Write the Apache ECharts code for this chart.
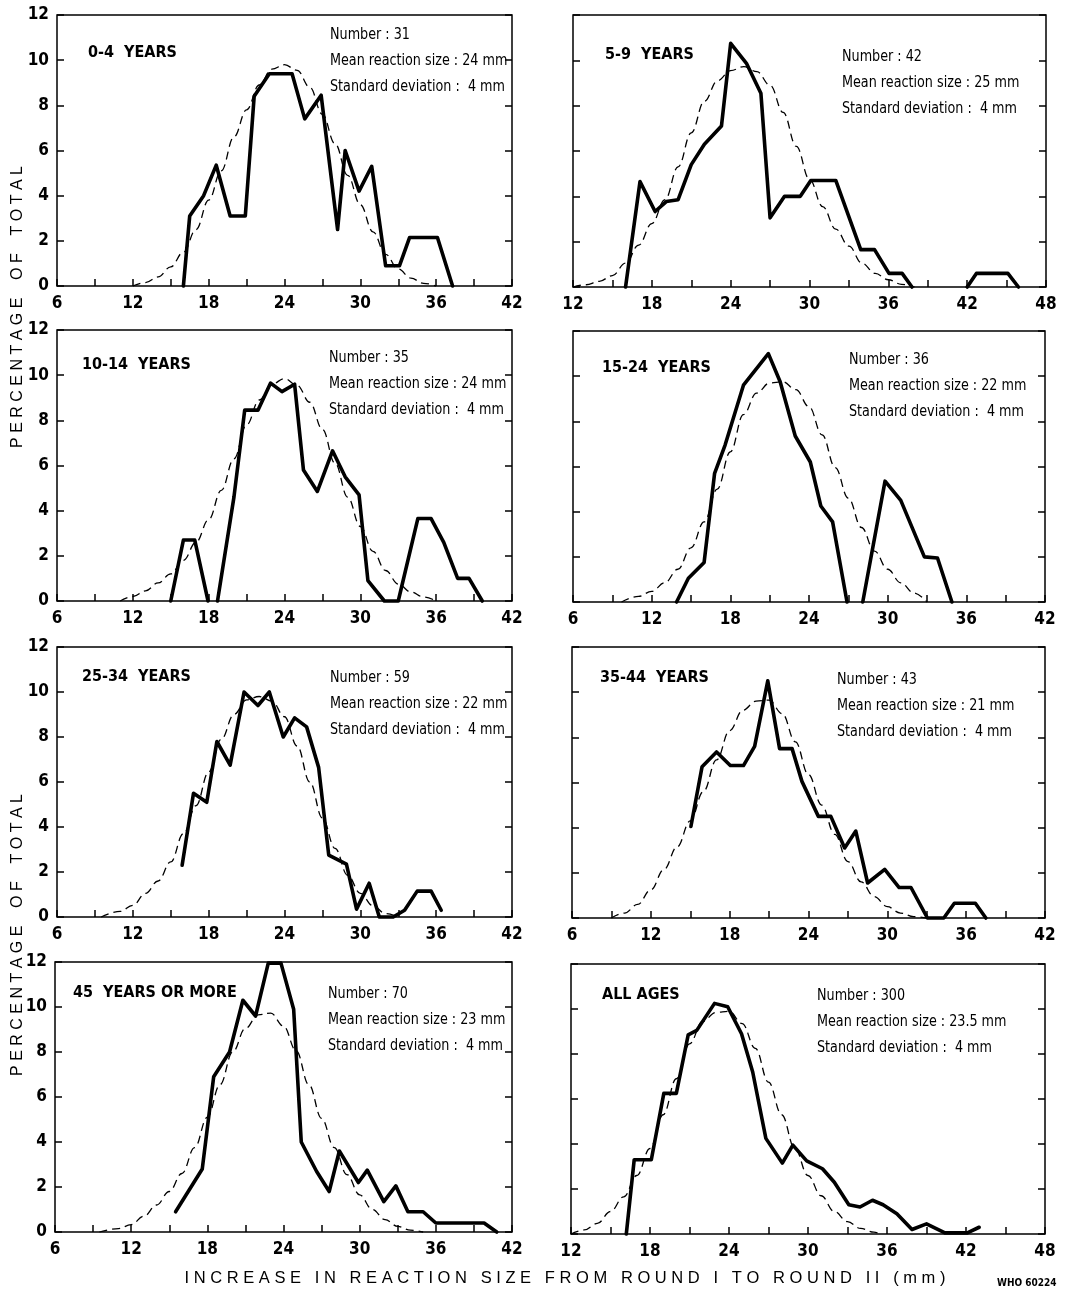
<!DOCTYPE html>
<html>
<head>
<meta charset="utf-8">
<script src="https://cdn.jsdelivr.net/npm/echarts@6.0.0/dist/echarts.min.js"></script>
<style>
  html, body { margin: 0; padding: 0; background: #fff; }
  #chart { width: 1082px; height: 1291px; }
</style>
</head>
<body>
<div id="chart"></div>
<script>
// observed distributions: [increase in mm, % of total]  ('-' = gap in the curve)
const obs0to4 = [[16,0],[16.5,3.1],[17.6,4.0],[18.6,5.35],[19.7,3.1],[20.9,3.1],[21.6,8.4],[22.8,9.4],[24.6,9.4],[25.6,7.4],[26.9,8.45],[28.2,2.5],[28.8,6.0],[29.9,4.2],[30.9,5.3],[32.0,0.9],[33.1,0.9],[33.9,2.15],[36.1,2.15],[37.3,0]]
const obs5to9 = [[16,0],[17.1,4.65],[18.25,3.33],[19.1,3.77],[20,3.85],[21,5.4],[22,6.3],[23.3,7.1],[24,10.75],[25.2,9.87],[26.3,8.55],[27,3.05],[28.1,4.0],[29.3,4.0],[30.1,4.7],[32,4.7],[33.9,1.65],[34.95,1.65],[36.05,0.6],[37.05,0.6],[37.8,0],[40,'-'],[42,0],[42.7,0.6],[45.1,0.6],[45.9,0]]
const obs10to14 = [[15,0],[16,2.7],[16.9,2.7],[17.95,0],[18.3,'-'],[18.7,0],[20,4.6],[20.85,8.45],[21.9,8.45],[22.9,9.65],[23.8,9.27],[24.8,9.6],[25.5,5.8],[26.6,4.85],[27.8,6.65],[28.8,5.5],[29.9,4.7],[30.6,0.9],[31.9,0],[33,0],[34.55,3.65],[35.6,3.65],[36.6,2.6],[37.7,1.0],[38.6,1.0],[39.65,0]]
const obs15to24 = [[13.9,0],[14.8,1.05],[16,1.75],[16.8,5.7],[17.6,6.95],[19,9.6],[20.9,11.0],[21.8,9.75],[22.95,7.35],[24.1,6.2],[24.9,4.25],[25.8,3.55],[26.9,0],[27.5,'-'],[28.1,0],[29.8,5.35],[31,4.5],[32.8,2.0],[33.8,1.95],[34.9,0]]
const obs25to34 = [[15.9,2.3],[16.8,5.5],[17.85,5.1],[18.65,7.8],[19.7,6.75],[20.8,10.0],[21.9,9.4],[22.8,10.0],[23.9,8.0],[24.8,8.85],[25.75,8.45],[26.7,6.65],[27.5,2.75],[28.9,2.35],[29.7,0.35],[30.7,1.5],[31.5,0],[32.6,0],[33.5,0.3],[34.5,1.15],[35.6,1.15],[36.4,0.3]]
const obs35to44 = [[15.05,4.05],[15.9,6.7],[17,7.35],[18.05,6.75],[19.05,6.75],[19.9,7.6],[20.9,10.5],[21.8,7.5],[22.75,7.5],[23.5,6.05],[24.75,4.5],[25.7,4.5],[26.75,3.1],[27.6,3.85],[28.5,1.55],[29.8,2.15],[30.9,1.35],[31.8,1.35],[33.05,0],[34.3,0],[35.1,0.65],[36.7,0.65],[37.5,0]]
const obs45plus = [[15.5,0.9],[17.6,2.8],[18.5,6.9],[19.75,8.0],[20.8,10.3],[21.8,9.6],[22.8,11.95],[23.8,11.95],[24.8,9.9],[25.4,4.0],[26.6,2.7],[27.6,1.8],[28.4,3.6],[29.9,2.2],[30.6,2.75],[31.9,1.35],[32.85,2.05],[33.8,0.9],[35,0.9],[36,0.4],[39.8,0.4],[40.8,0]]
const obsAll = [[16.2,0],[16.8,3.3],[18.1,3.3],[19.05,6.25],[20,6.25],[20.9,8.85],[21.55,9.05],[22.9,10.25],[23.9,10.1],[24.95,8.9],[25.8,7.2],[26.8,4.25],[28.05,3.15],[28.85,3.95],[29.9,3.25],[31.1,2.9],[32,2.3],[33.1,1.3],[33.95,1.2],[34.9,1.5],[35.7,1.3],[36.75,0.9],[37.9,0.2],[39,0.45],[40.4,0.05],[42.1,0.05],[43,0.3]]

// fitted normal curves (dashed)
const fit0to4 = [[12,0],[13,0.15],[14,0.4],[15,0.85],[16,1.5],[17,2.5],[18,3.8],[19,5.1],[20,6.6],[21,7.8],[22,8.9],[23,9.6],[24,9.8],[25,9.55],[26,8.8],[27,7.6],[28,6.3],[29,4.9],[30,3.6],[31,2.4],[32,1.4],[33,0.75],[34,0.35],[35,0.12],[36,0]]
const fit5to9 = [[12,0],[13,0.1],[14,0.25],[15,0.5],[16,1.05],[17,1.85],[18,2.8],[19,3.85],[20,5.3],[21,6.8],[22,8.2],[23,9.1],[24,9.55],[25,9.72],[26,9.5],[27,8.9],[28,7.7],[29,6.2],[30,4.75],[31,3.55],[32,2.55],[33,1.8],[34,1.05],[35,0.6],[36,0.32],[37,0.12],[38,0]]
const fit10to14 = [[11,0],[12,0.2],[13,0.45],[14,0.8],[15,1.2],[16,1.8],[17,2.6],[18,3.6],[19,4.9],[20,6.3],[21,7.8],[22,8.9],[23,9.6],[24,9.85],[25,9.55],[26,8.8],[27,7.6],[28,6.1],[29,4.6],[30,3.3],[31,2.2],[32,1.35],[33,0.75],[34,0.4],[35,0.18],[36,0]]
const fit15to24 = [[9.7,0],[11,0.25],[12,0.47],[13,0.85],[14,1.45],[15,2.4],[16,3.55],[17,5.0],[18,6.65],[19,8.3],[20,9.25],[21,9.7],[22,9.75],[23,9.4],[24,8.65],[25,7.4],[26,5.95],[27,4.6],[28,3.3],[29,2.25],[30,1.45],[31,0.85],[32,0.4],[33,0]]
const fit25to34 = [[9.5,0],[11,0.25],[12,0.52],[13,1.05],[14,1.6],[15,2.45],[16,3.7],[17,4.95],[18,6.45],[19,7.9],[20,9.0],[21,9.65],[22,9.8],[23,9.6],[24,8.9],[25,7.6],[26,6.0],[27,4.4],[28,3.05],[29,1.85],[30,1.05],[31,0.5],[32,0.15],[33,0]]
const fit35to44 = [[9,0],[10,0.22],[11,0.6],[12,1.25],[13,2.15],[14,3.15],[15,4.3],[16,5.6],[17,7.0],[18,8.3],[19,9.2],[20,9.6],[21,9.65],[22,9.05],[23,7.8],[24,6.35],[25,5.0],[26,3.7],[27,2.5],[28,1.6],[29,0.95],[30,0.5],[31,0.22],[32,0.06],[33,0]]
const fit45plus = [[9.5,0],[11,0.15],[12,0.33],[13,0.7],[14,1.2],[15,1.8],[16,2.6],[17,3.75],[18,5.1],[19,6.55],[20,8.0],[21,9.05],[22,9.65],[23,9.73],[24,9.15],[25,8.05],[26,6.55],[27,5.05],[28,3.75],[29,2.55],[30,1.65],[31,1.0],[32,0.55],[33,0.25],[34,0.08],[35,0]]
const fitAll = [[12,0],[13,0.18],[14,0.47],[15,1.0],[16,1.65],[17,2.6],[18,3.8],[19,5.3],[20,6.9],[21,8.45],[22,9.45],[23,9.85],[24,9.9],[25,9.35],[26,8.25],[27,6.75],[28,5.3],[29,3.8],[30,2.6],[31,1.7],[32,1.0],[33,0.55],[34,0.25],[35,0.08],[35.5,0]]

const ageGroups = ['0-4  YEARS', '5-9  YEARS', '10-14  YEARS', '15-24  YEARS', '25-34  YEARS', '35-44  YEARS', '45  YEARS OR MORE', 'ALL AGES']
const numbers = ['31', '42', '35', '36', '59', '43', '70', '300']
const meanSizes = ['24', '25', '24', '22', '22', '21', '23', '23.5']
const stdDevs = ['4', '4', '4', '4', '4', '4', '4', '4']
const xMins = [6, 12, 6, 6, 6, 6, 6, 12]
const xMaxs = [42, 48, 42, 42, 42, 42, 42, 48]
const yTicks = [0, 2, 4, 6, 8, 10, 12]

const observed = [obs0to4, obs5to9, obs10to14, obs15to24, obs25to34, obs35to44, obs45plus, obsAll]
const fitted = [fit0to4, fit5to9, fit10to14, fit15to24, fit25to34, fit35to44, fit45plus, fitAll]

// panel boxes (px) and text offsets inside each box
const boxes = [
  {left: 57, top: 15, width: 455, height: 271, lx: 31, ly: 38, sx: 273, sy: 20},
  {left: 573, top: 15, width: 473, height: 272, lx: 32, ly: 40, sx: 269, sy: 42},
  {left: 57, top: 330, width: 455, height: 271, lx: 25, ly: 35, sx: 272, sy: 28},
  {left: 573, top: 331, width: 472, height: 271, lx: 29, ly: 37, sx: 276, sy: 29},
  {left: 57, top: 647, width: 455, height: 270, lx: 25, ly: 30, sx: 273, sy: 31},
  {left: 572, top: 647, width: 473, height: 271, lx: 28, ly: 31, sx: 265, sy: 33},
  {left: 55, top: 962, width: 457, height: 270, lx: 18, ly: 31, sx: 273, sy: 32},
  {left: 571, top: 964, width: 474, height: 270, lx: 31, ly: 31, sx: 246, sy: 32}
]

const numFont = '"Liberation Sans Narrow", "DejaVu Sans Condensed", sans-serif'
const myChart = echarts.init(document.getElementById('chart'))

const grid = [], xAxis = [], yAxis = [], series = [], graphic = []

boxes.forEach((b, i) => {
  const leftCol = i % 2 === 0
  grid.push({
    left: b.left, top: b.top, width: b.width, height: b.height,
    show: true, borderColor: '#000', borderWidth: 1.5, backgroundColor: 'transparent'
  })
  xAxis.push({
    type: 'value', gridIndex: i, min: xMins[i], max: xMaxs[i], interval: 3,
    axisLine: {show: false},
    axisTick: {inside: true, length: 7, lineStyle: {color: '#000', width: 1.5}},
    splitLine: {show: false},
    axisLabel: {
      color: '#000', fontSize: 17, fontWeight: 'bold', fontFamily: numFont, margin: 9,
      showMinLabel: true, showMaxLabel: true,
      formatter: v => (v % 6 === 0 ? String(v) : '')
    }
  })
  yAxis.push({
    type: 'value', gridIndex: i, min: yTicks[0], max: yTicks[yTicks.length - 1], interval: 2,
    axisLine: {show: false},
    axisTick: {inside: true, length: 7, lineStyle: {color: '#000', width: 1.5}},
    splitLine: {show: false},
    axisLabel: {
      show: leftCol, color: '#000', fontSize: 17, fontWeight: 'bold', fontFamily: numFont, margin: 8,
      showMinLabel: true, showMaxLabel: true
    }
  })
  yAxis.push({
    type: 'value', gridIndex: i, position: 'right', min: yTicks[0], max: yTicks[yTicks.length - 1], interval: 2,
    axisLine: {show: false},
    axisTick: {inside: true, length: 7, lineStyle: {color: '#000', width: 1.5}},
    splitLine: {show: false},
    axisLabel: {show: false}
  })
  series.push({
    type: 'line', xAxisIndex: i, yAxisIndex: i * 2, data: fitted[i],
    smooth: 0.4, smoothMonotone: 'x', showSymbol: false, silent: true, clip: false,
    lineStyle: {color: '#000', width: 1.3, type: [8, 5]}
  })
  series.push({
    type: 'line', xAxisIndex: i, yAxisIndex: i * 2, data: observed[i],
    showSymbol: false, silent: true, clip: false, connectNulls: false,
    lineStyle: {color: '#000', width: 3.6, join: 'round', cap: 'round'}
  })
  graphic.push({
    type: 'text', x: b.left + b.lx, y: b.top + b.ly,
    style: {
      text: ageGroups[i], fill: '#000', textVerticalAlign: 'middle',
      font: 'bold 16px ' + numFont
    }
  })
  const statLines = [
    'Number : ' + numbers[i],
    'Mean reaction size : ' + meanSizes[i] + ' mm',
    'Standard deviation :  ' + stdDevs[i] + ' mm'
  ]
  statLines.forEach((t, k) => {
    graphic.push({
      type: 'text', x: b.left + b.sx, y: b.top + b.sy + k * 26, scaleX: 0.86,
      style: {text: t, fill: '#000', textVerticalAlign: 'middle', font: '16.5px ' + numFont}
    })
  })
})

// axis titles
const yTitle = 'P E R C E N T A G E    O F    T O T A L'
;[307, 935].forEach(cy => {
  graphic.push({
    type: 'text', x: 18, y: cy, rotation: Math.PI / 2,
    style: {
      text: yTitle, fill: '#000', textAlign: 'center', textVerticalAlign: 'middle',
      font: '16px "Liberation Sans", sans-serif'
    }
  })
})
graphic.push({
  type: 'text', x: 565, y: 1278,
  style: {
    text: 'I N C R E A S E   I N   R E A C T I O N   S I Z E   F R O M   R O U N D   I   T O   R O U N D   I I   ( m m )',
    fill: '#000', textAlign: 'center', textVerticalAlign: 'middle',
    font: '16.5px "Liberation Sans", sans-serif'
  }
})
graphic.push({
  type: 'text', x: 997, y: 1283,
  style: {text: 'WHO 60224', fill: '#000', textVerticalAlign: 'middle', font: 'bold 10px ' + numFont}
})

const option = {
  backgroundColor: '#fff',
  animation: false,
  grid: grid,
  xAxis: xAxis,
  yAxis: yAxis,
  series: series,
  graphic: graphic
}
myChart.setOption(option)
</script>
</body>
</html>
